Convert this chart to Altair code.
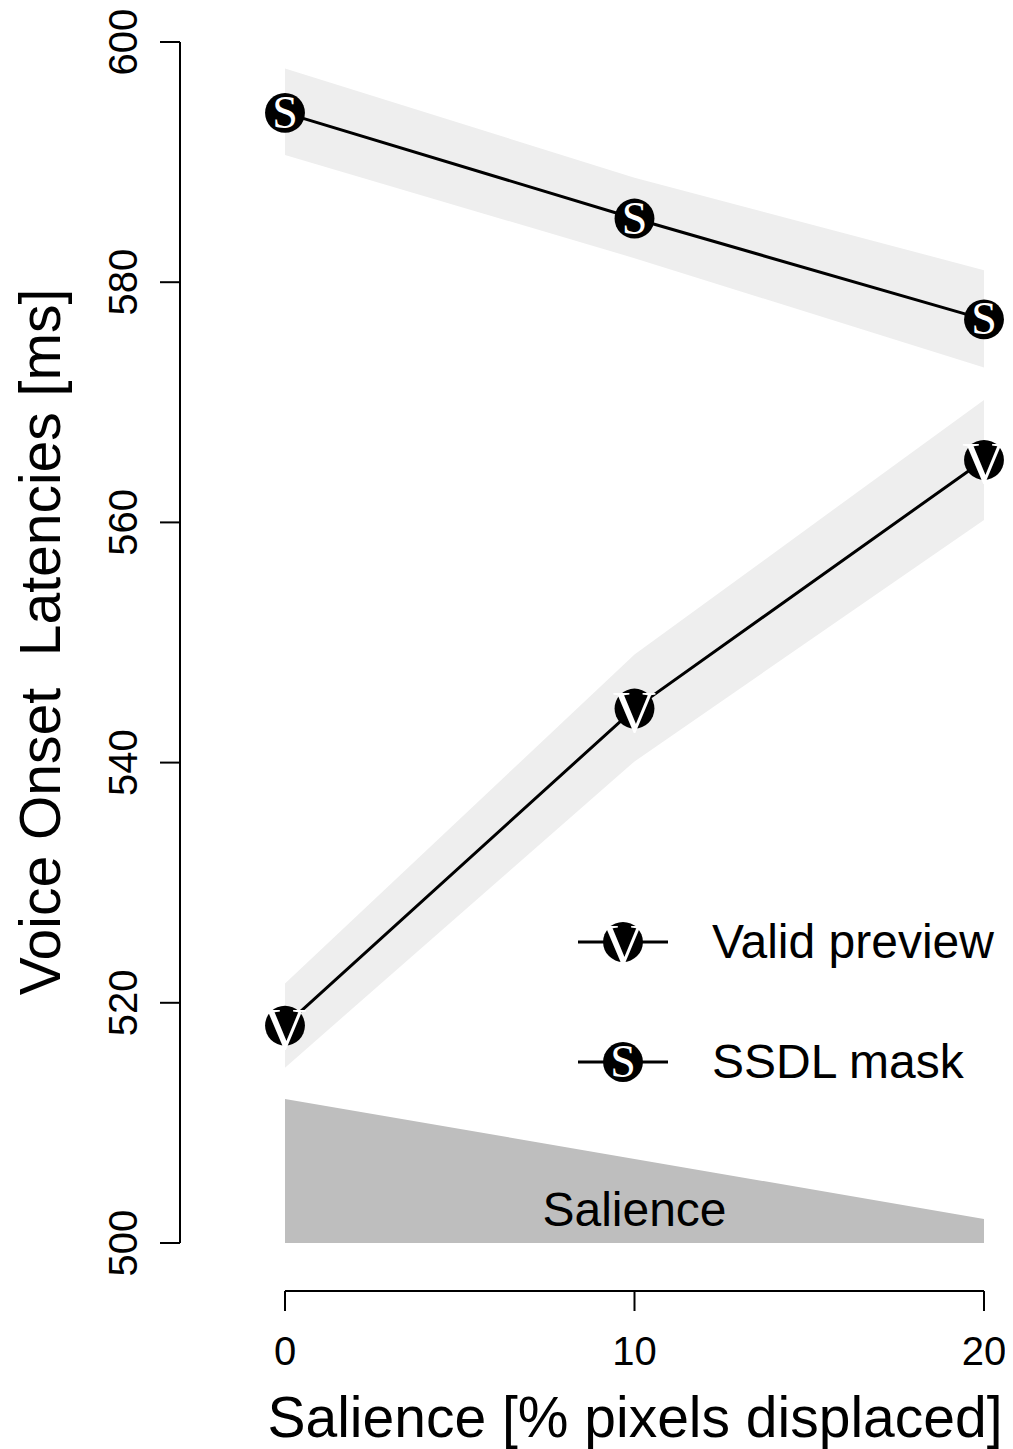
import altair as alt
import pandas as pd

# ---------------- data ----------------
salience = [0, 10, 20]

valid_mean = [518.1, 544.5, 565.2]
valid_lo = [514.6, 540.1, 560.2]
valid_hi = [521.6, 549.0, 570.2]

ssdl_mean = [594.1, 585.3, 576.9]
ssdl_lo = [590.6, 582.0, 572.9]
ssdl_hi = [597.8, 588.7, 581.0]

salience_wedge = [512.0, 507.0, 502.0]
wedge_base = 500

series_names = ["Valid preview", "SSDL mask"]
series_letters = ["V", "S"]

y_ticks = [500, 520, 540, 560, 580, 600]
x_ticks = [0, 10, 20]

y_title = "Voice Onset\u00a0 Latencies [ms]"
x_title = "Salience [% pixels displaced]"
wedge_label = "Salience"

# ---------------- tables ----------------
rows = []
for name, letter, m, lo, hi in [
    (series_names[0], series_letters[0], valid_mean, valid_lo, valid_hi),
    (series_names[1], series_letters[1], ssdl_mean, ssdl_lo, ssdl_hi),
]:
    for x, a, b, c in zip(salience, m, lo, hi):
        rows.append({"x": x, "mean": a, "lo": b, "hi": c, "series": name, "letter": letter})
df = pd.DataFrame(rows)

df_wedge = pd.DataFrame({"x": salience, "top": salience_wedge, "base": [wedge_base] * len(salience)})
df_yt = pd.DataFrame({"v": y_ticks})
df_xt = pd.DataFrame({"v": x_ticks})
df_yax = pd.DataFrame({"lo": [min(y_ticks)], "hi": [max(y_ticks)]})
df_xax = pd.DataFrame({"lo": [min(x_ticks)], "hi": [max(x_ticks)]})
df_lbl = pd.DataFrame({"x": [salience[1]], "y": [507.0 - 4.25], "t": [wedge_label]})

# ---------------- layout ----------------
W, H = 997, 1441
XU = 34.95   # px per x unit
X0 = 277     # px of x = 0
YU = 12.01   # px per y unit
Y600 = 34    # px of y = 600
xs = alt.Scale(domain=[-X0 / XU, (W - X0) / XU], nice=False, zero=False)
ys = alt.Scale(domain=[600 - (H - Y600) / YU, 600 + Y600 / YU], nice=False, zero=False)
SANS = "Liberation Sans"
SERIF = "Liberation Serif"
LETTER_SIZE = {"V": 60, "S": 46}
LETTER_DY = {"V": 5, "S": 1}


def X(f):
    return alt.X(f, type="quantitative", scale=xs, axis=None)


def Y(f):
    return alt.Y(f, type="quantitative", scale=ys, axis=None)


base = alt.Chart(df)

wedge = alt.Chart(df_wedge).mark_area(color="#bebebe").encode(
    x=X("x"), y=Y("top"), y2=alt.Y2("base")
)

bands = base.mark_area(color="#eeeeee").encode(
    x=X("x"), y=Y("lo"), y2=alt.Y2("hi"), detail="series:N"
)

lines = base.mark_line(color="black", strokeWidth=3).encode(
    x=X("x"), y=Y("mean"), detail="series:N"
)

points = base.mark_circle(size=1590, color="black", opacity=1).encode(
    x=X("x"), y=Y("mean")
)

letter_layers = []
for letter in series_letters:
    letter_layers.append(
        base.transform_filter(alt.datum.letter == letter)
        .mark_text(color="white", font=SERIF, fontSize=LETTER_SIZE[letter],
                   baseline="middle", align="center", dy=LETTER_DY[letter])
        .encode(x=X("x"), y=Y("mean"), text="letter:N")
    )

wedge_text = alt.Chart(df_lbl).mark_text(
    font=SANS, fontSize=48, baseline="middle", align="center", color="black", dy=2
).encode(x=X("x"), y=Y("y"), text="t:N")

# axes
y_axis_line = alt.Chart(df_yax).mark_rule(color="black", strokeWidth=2).encode(
    x=alt.value(172), y=Y("lo"), y2=alt.Y2("hi")
)
y_axis_ticks = alt.Chart(df_yt).mark_rule(color="black", strokeWidth=2).encode(
    x=alt.value(152), x2=alt.value(172), y=Y("v")
)
y_axis_labels = alt.Chart(df_yt).mark_text(
    font=SANS, fontSize=40, angle=270, baseline="alphabetic", align="center", color="black"
).encode(x=alt.value(129), y=Y("v"), text=alt.Text("v:Q", format="d"))

x_axis_line = alt.Chart(df_xax).mark_rule(color="black", strokeWidth=2).encode(
    x=X("lo"), x2=alt.X2("hi"), y=alt.value(1283)
)
x_axis_ticks = alt.Chart(df_xt).mark_rule(color="black", strokeWidth=2).encode(
    x=X("v"), y=alt.value(1283), y2=alt.value(1303)
)
x_axis_labels = alt.Chart(df_xt).mark_text(
    font=SANS, fontSize=40, baseline="alphabetic", align="center", color="black"
).encode(x=X("v"), y=alt.value(1357), text=alt.Text("v:Q", format="d"))

x_axis_title = alt.Chart(pd.DataFrame({"t": [x_title]})).mark_text(
    font=SANS, fontSize=57, baseline="alphabetic", align="center", color="black"
).encode(x=alt.value(627), y=alt.value(1429), text="t:N")

y_axis_title = alt.Chart(pd.DataFrame({"t": [y_title]})).mark_text(
    font=SANS, fontSize=57, angle=270, baseline="alphabetic", align="center", color="black"
).encode(x=alt.value(52), y=alt.value(634), text="t:N")

# legend
legend_layers = []
legend_y = [934, 1054]
for name, letter, ly in zip(series_names, series_letters, legend_y):
    ldf = pd.DataFrame({"label": [name], "letter": [letter]})
    lc = alt.Chart(ldf)
    legend_layers += [
        lc.mark_rule(color="black", strokeWidth=3).encode(
            x=alt.value(570), x2=alt.value(660), y=alt.value(ly)
        ),
        lc.mark_circle(size=1590, color="black", opacity=1).encode(
            x=alt.value(615), y=alt.value(ly)
        ),
        lc.mark_text(color="white", font=SERIF, fontSize=LETTER_SIZE[letter],
                     baseline="middle", align="center", dy=LETTER_DY[letter]).encode(
            x=alt.value(615), y=alt.value(ly), text="letter:N"
        ),
        lc.mark_text(color="black", font=SANS, fontSize=48,
                     baseline="middle", align="left", dy=2).encode(
            x=alt.value(704), y=alt.value(ly), text="label:N"
        ),
    ]

chart = alt.layer(
    wedge, bands, lines, points, *letter_layers, wedge_text,
    y_axis_line, y_axis_ticks, y_axis_labels,
    x_axis_line, x_axis_ticks, x_axis_labels,
    x_axis_title, y_axis_title, *legend_layers,
).properties(
    width=W, height=H, padding=0, autosize=alt.AutoSizeParams(type="none")
).configure_view(stroke=None)

chart.save("out.html", embed_options={"renderer": "svg", "actions": False})
